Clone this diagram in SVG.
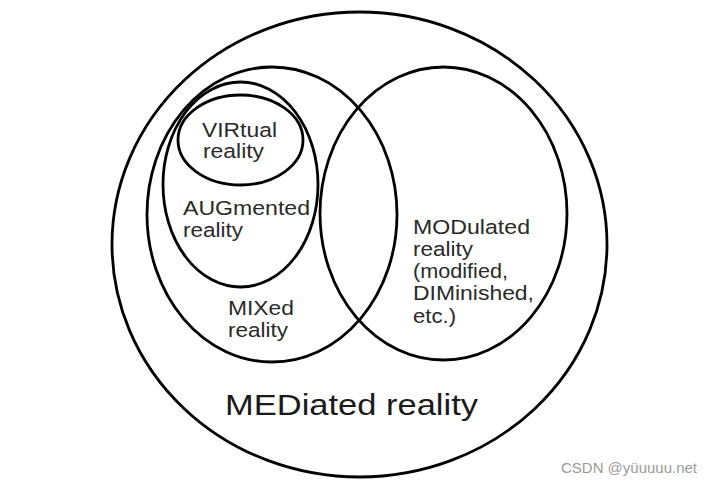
<svg xmlns="http://www.w3.org/2000/svg" width="714" height="486" viewBox="0 0 714 486">
<style>
.set{fill:none;stroke:#000;stroke-width:2.8}
.lbl{font-family:"Liberation Sans",Arial,sans-serif;font-size:20.5px;fill:#2a2a2a}
.big{font-family:"Liberation Sans",Arial,sans-serif;font-size:30px;fill:#1a1a1a}
.wm{font-family:"Liberation Sans",Arial,sans-serif;font-size:14px;fill:#9a9a9a}
</style>
<rect width="714" height="486" fill="#fff"/>
<g id="mediated">
<ellipse class="set" cx="359.5" cy="244.5" rx="247.5" ry="232.5"/>
<text class="big" x="225" y="415" textLength="253" lengthAdjust="spacingAndGlyphs">MEDiated reality</text>
</g>
<g id="mixed">
<ellipse class="set" cx="272" cy="214.5" rx="125" ry="147.5"/>
<text class="lbl" x="228" y="315" textLength="66" lengthAdjust="spacingAndGlyphs">MIXed</text>
<text class="lbl" x="228" y="337" textLength="60" lengthAdjust="spacingAndGlyphs">reality</text>
</g>
<g id="modulated">
<ellipse class="set" cx="443.5" cy="213.5" rx="123.5" ry="146.5"/>
<text class="lbl" x="413" y="234" textLength="117" lengthAdjust="spacingAndGlyphs">MODulated</text>
<text class="lbl" x="413" y="256" textLength="60" lengthAdjust="spacingAndGlyphs">reality</text>
<text class="lbl" x="413" y="278" textLength="95" lengthAdjust="spacingAndGlyphs">(modified,</text>
<text class="lbl" x="413" y="300" textLength="121" lengthAdjust="spacingAndGlyphs">DIMinished,</text>
<text class="lbl" x="413" y="323" textLength="43" lengthAdjust="spacingAndGlyphs">etc.)</text>
</g>
<g id="augmented">
<ellipse class="set" cx="240.5" cy="184.5" rx="77.5" ry="102.5"/>
<text class="lbl" x="183" y="215" textLength="127" lengthAdjust="spacingAndGlyphs">AUGmented</text>
<text class="lbl" x="183" y="237" textLength="60" lengthAdjust="spacingAndGlyphs">reality</text>
</g>
<g id="virtual">
<ellipse class="set" cx="240.5" cy="140" rx="62.5" ry="45"/>
<text class="lbl" x="202" y="137" textLength="75" lengthAdjust="spacingAndGlyphs">VIRtual</text>
<text class="lbl" x="203" y="158" textLength="61" lengthAdjust="spacingAndGlyphs">reality</text>
</g>
<g id="connectors"/>
<text class="wm" x="561" y="473" textLength="136" lengthAdjust="spacingAndGlyphs">CSDN @yüuuuu.net</text>
</svg>
